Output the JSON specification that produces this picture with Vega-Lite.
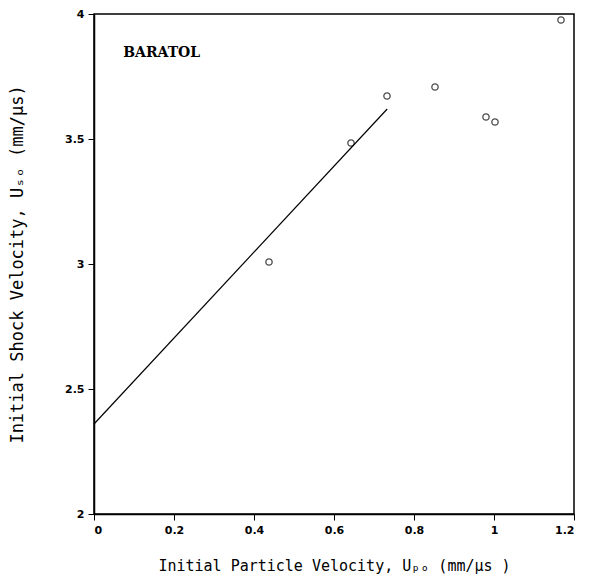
{
  "$schema": "https://vega.github.io/schema/vega-lite/v6.json",
  "autosize": "none",
  "padding": {"left": 94, "top": 14, "right": 19, "bottom": 64},
  "width": 480,
  "height": 500,
  "background": "white",
  "config": {
    "view": {"stroke": "black", "strokeWidth": 1.5},
    "axis": {
      "grid": false,
      "domainColor": "black",
      "domainWidth": 1.5,
      "tickColor": "black",
      "tickSize": 6,
      "labelColor": "black",
      "labelFont": "DejaVu Sans",
      "labelFontWeight": "bold",
      "labelFontSize": 11,
      "titleColor": "black",
      "titleFont": "DejaVu Sans Mono",
      "titleFontWeight": "normal"
    }
  },
  "datasets": {
    "pts": [
      {"up": 0.4375, "us": 3.008},
      {"up": 0.6425, "us": 3.484},
      {"up": 0.7325, "us": 3.672},
      {"up": 0.8525, "us": 3.708},
      {"up": 0.98, "us": 3.588},
      {"up": 1.0025, "us": 3.568},
      {"up": 1.1675, "us": 3.976}
    ],
    "fit": [
      {"up": 0, "us": 2.36},
      {"up": 0.733, "us": 3.62}
    ],
    "label": [
      {"up": 0.073, "us": 3.845, "text": "BARATOL"}
    ]
  },
  "layer": [
    {
      "data": {"name": "fit"},
      "mark": {"type": "line", "color": "black", "strokeWidth": 1.2},
      "encoding": {
        "x": {
          "field": "up", "type": "quantitative",
          "scale": {"domain": [0, 1.2], "nice": false},
          "axis": {
            "values": [0, 0.2, 0.4, 0.6, 0.8, 1, 1.2],
            "format": "~g",
            "title": "Initial Particle Velocity, Uₚₒ  (mm/μs )",
            "titleFontSize": 15,
            "titlePadding": 23,
            "labelPadding": 4
          }
        },
        "y": {
          "field": "us", "type": "quantitative",
          "scale": {"domain": [2, 4], "nice": false, "zero": false},
          "axis": {
            "values": [2, 2.5, 3, 3.5, 4],
            "format": "~g",
            "title": "Initial Shock Velocity, Uₛₒ  (mm/μs)",
            "titleFontSize": 17,
            "titlePadding": 38,
            "labelPadding": 4
          }
        }
      }
    },
    {
      "data": {"name": "pts"},
      "mark": {"type": "point", "shape": "circle", "filled": false, "color": "black", "size": 40, "strokeWidth": 1.3},
      "encoding": {
        "x": {"field": "up", "type": "quantitative"},
        "y": {"field": "us", "type": "quantitative"}
      }
    },
    {
      "data": {"name": "label"},
      "mark": {"type": "text", "align": "left", "baseline": "middle", "font": "DejaVu Serif", "fontWeight": "bold", "fontSize": 14, "color": "black"},
      "encoding": {
        "x": {"field": "up", "type": "quantitative"},
        "y": {"field": "us", "type": "quantitative"},
        "text": {"field": "text"}
      }
    }
  ]
}
